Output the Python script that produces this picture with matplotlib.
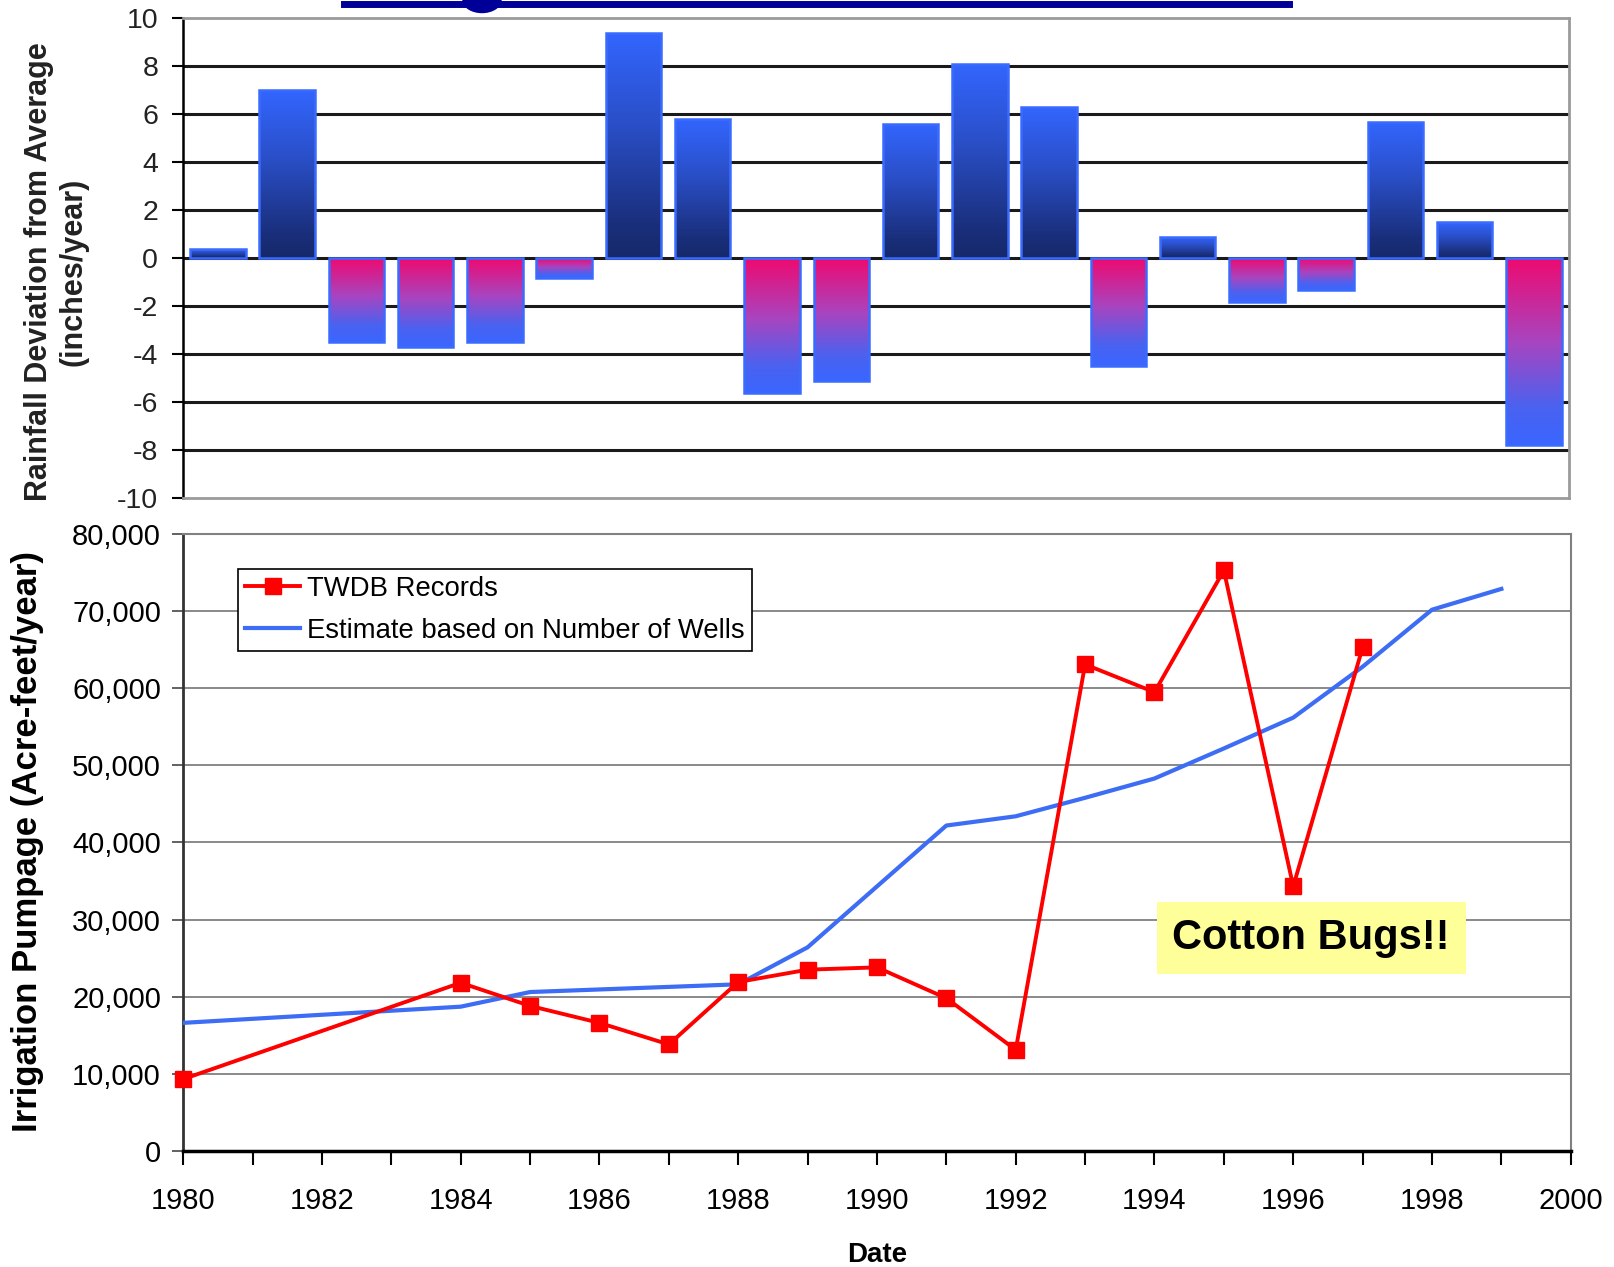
import matplotlib
matplotlib.use("Agg")
import matplotlib.pyplot as plt
import numpy as np
from matplotlib.colors import LinearSegmentedColormap
from matplotlib.lines import Line2D
from matplotlib.patches import Ellipse
from matplotlib.ticker import FuncFormatter, MultipleLocator

plt.rcParams['font.family'] = ['Liberation Sans', 'DejaVu Sans']
plt.rcParams['axes.unicode_minus'] = False

# Rainfall deviation from average (inches/year), one bar per year
rain_years = np.arange(1980, 2000)
rain_dev = [0.4, 7.0, -3.5, -3.7, -3.5, -0.8, 9.4, 5.8, -5.6, -5.1,
            5.6, 8.1, 6.3, -4.5, 0.9, -1.8, -1.3, 5.7, 1.5, -7.8]

# TWDB pumpage records (acre-feet/year)
twdb_years = [1980, 1984, 1985, 1986, 1987, 1988, 1989, 1990, 1991, 1992,
              1993, 1994, 1995, 1996, 1997]
twdb_pump = [9300, 21800, 18800, 16600, 13800, 21900, 23500, 23800, 19800,
             13100, 63100, 59500, 75300, 34300, 65300]

# estimate from the number of wells (acre-feet/year)
est_years = [1980, 1984, 1985, 1988, 1989, 1990, 1991, 1992, 1993, 1994,
             1995, 1996, 1997, 1998, 1999]
est_pump = [16600, 18700, 20600, 21600, 26400, 34300, 42200, 43400, 45800,
            48300, 52200, 56200, 62800, 70200, 72900]

W, H = 1614, 1267
fig = plt.figure(figsize=(W / 100, H / 100), dpi=100)

ax_rain = fig.add_axes([0.1135, 0.6068, 0.8584, 0.3786])
ax_pump = fig.add_axes([0.1135, 0.0917, 0.8597, 0.4867])

# --- rainfall bars with vertical gradient fill ---------------------------
pos_cmap = LinearSegmentedColormap.from_list(
    'wet', [(0, '#16296A'), (0.15, '#1A2F7C'), (0.6, '#2A4FC8'), (1, '#3366FF')])
neg_cmap = LinearSegmentedColormap.from_list(
    'dry', [(0, '#3A66FF'), (0.2, '#4A62F0'), (0.55, '#A845C0'), (1, '#EE0A70')])
grad = np.linspace(0, 1, 256).reshape(-1, 1)

bars = ax_rain.bar(rain_years + 0.5, rain_dev, width=0.8, facecolor='none',
                   edgecolor='#3A6BFF', linewidth=1.8, zorder=3)
for bar, val in zip(bars, rain_dev):
    x0 = bar.get_x()
    x1 = x0 + bar.get_width()
    y0, y1 = min(0, val), max(0, val)
    im = ax_rain.imshow(grad, extent=[x0, x1, y0, y1], origin='lower',
                        aspect='auto', cmap=pos_cmap if val > 0 else neg_cmap,
                        interpolation='bicubic', zorder=2.5)
    im.set_clip_path(bar)

ax_rain.set_xlim(1980, 2000)
ax_rain.set_ylim(-10, 10)
ax_rain.set_yticks(np.arange(-10, 11, 2))
ax_rain.set_axisbelow(True)
ax_rain.yaxis.grid(True, color='#1a1a1a', linewidth=2.2)
gl = ax_rain.get_ygridlines()
gl[0].set_visible(False)
gl[-1].set_visible(False)
ax_rain.tick_params(axis='y', direction='out', length=8, width=1.5,
                    labelsize=20.5, pad=10, labelcolor='#222222')
ax_rain.tick_params(axis='x', bottom=False, labelbottom=False)
for side in ['top', 'right', 'bottom']:
    ax_rain.spines[side].set_color('#9a9a9a')
    ax_rain.spines[side].set_linewidth(2)
ax_rain.spines['left'].set_color('black')
ax_rain.spines['left'].set_linewidth(1.8)

fig.text(0.0347, 0.7853, 'Rainfall Deviation from Average\n(inches/year)',
         rotation=90, ha='center', va='center', multialignment='center',
         fontsize=22, fontweight='bold', color='#222222')

# --- pumpage lines --------------------------------------------------------
ax_pump.plot(est_years, est_pump, '-', color='#3D6CF5', linewidth=3,
             label='Estimate based on Number of Wells', zorder=3)
ax_pump.plot(twdb_years, twdb_pump, '-s', color='#FF0000', linewidth=2.8,
             markersize=11.5, label='TWDB Records', zorder=4, clip_on=False)

ax_pump.set_xlim(1980, 2000)
ax_pump.set_ylim(0, 80000)
ax_pump.xaxis.set_major_locator(MultipleLocator(2))
ax_pump.xaxis.set_minor_locator(MultipleLocator(1))
ax_pump.yaxis.set_major_locator(MultipleLocator(10000))
ax_pump.yaxis.set_major_formatter(FuncFormatter(lambda v, p: f'{int(v):,}'))
ax_pump.set_axisbelow(True)
ax_pump.yaxis.grid(True, color='#808080', linewidth=1.3)
ax_pump.tick_params(axis='x', which='both', direction='out', length=10,
                    width=1.5, labelsize=21, pad=16)
ax_pump.tick_params(axis='y', direction='out', length=8, width=1.3,
                    color='#555555', labelsize=21, pad=8)
for side in ['top', 'right']:
    ax_pump.spines[side].set_color('#808080')
    ax_pump.spines[side].set_linewidth(1.5)
ax_pump.spines['left'].set_color('#333333')
ax_pump.spines['left'].set_linewidth(2)
ax_pump.spines['bottom'].set_color('black')
ax_pump.spines['bottom'].set_linewidth(2.5)

handles, labels = ax_pump.get_legend_handles_labels()
leg = ax_pump.legend(handles[::-1], labels[::-1], loc='upper left',
                     bbox_to_anchor=(0.0395, 0.9436), borderaxespad=0,
                     fancybox=False, edgecolor='black', framealpha=1,
                     fontsize=19.8, handlelength=2.0, handletextpad=0.25,
                     borderpad=0.26, labelspacing=0.58)
leg.get_frame().set_linewidth(1.2)

ax_pump.text(1996.26, 27600, 'Cotton Bugs!!', ha='center', va='center',
             fontsize=30, fontweight='bold', zorder=5,
             bbox=dict(boxstyle='square,pad=0.38', facecolor='#FFFF99',
                       edgecolor='none'))

fig.text(0.0173, 0.3362, 'Irrigation Pumpage (Acre-feet/year)', rotation=90,
         ha='center', va='center', fontsize=25, fontweight='bold')
fig.text(0.5434, 0.0095, 'Date', ha='center', va='center',
         fontsize=20, fontweight='bold')

# underline of the slide heading above the chart
fig.add_artist(Line2D([344 / W, 1289 / W], [1 - 3.5 / H, 1 - 3.5 / H],
                      transform=fig.transFigure, color='#000099',
                      linewidth=5))
fig.add_artist(Ellipse((482 / W, 1.0), 38 / W, 25 / H,
                       transform=fig.transFigure, color='#000099'))

fig.savefig('out.png', dpi=100)
